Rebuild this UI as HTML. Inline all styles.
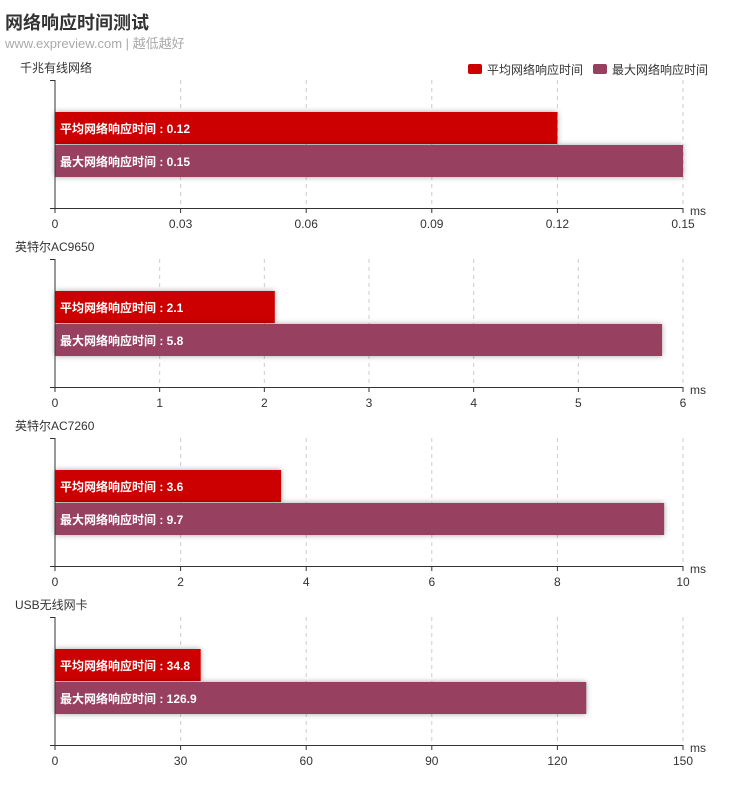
<!DOCTYPE html>
<html><head><meta charset="utf-8"><style>
body{margin:0;background:#fff;width:743px;height:803px;overflow:hidden}
svg text{font-family:"Liberation Sans","Noto Sans CJK SC",sans-serif}
</style></head><body>
<svg width="743" height="803" xmlns="http://www.w3.org/2000/svg">
<defs><filter id="sh" x="-5%" y="-30%" width="110%" height="160%"><feDropShadow dx="0" dy="0" stdDeviation="3" flood-color="#000" flood-opacity="0.35"/></filter></defs>
<text x="5" y="29" font-size="18" font-weight="bold" fill="#333">网络响应时间测试</text>
<text x="5" y="48" font-size="13" fill="#aaa">www.expreview.com | 越低越好</text>
<rect x="468" y="64" width="14" height="10" rx="2" fill="#cc0000"/>
<text x="487" y="74" font-size="12" fill="#333">平均网络响应时间</text>
<rect x="593" y="64" width="14" height="10" rx="2" fill="#973f5f"/>
<text x="612" y="74" font-size="12" fill="#333">最大网络响应时间</text>
<g id="panels"></g>
</svg>
<script>
const P=[["千兆有线网络",0.15,["0","0.03","0.06","0.09","0.12","0.15"],0.12,0.15,"0.12","0.15"],
["英特尔AC9650",6,["0","1","2","3","4","5","6"],2.1,5.8,"2.1","5.8"],
["英特尔AC7260",10,["0","2","4","6","8","10"],3.6,9.7,"3.6","9.7"],
["USB无线网卡",150,["0","30","60","90","120","150"],34.8,126.9,"34.8","126.9"]];
let s="";
P.forEach((p,i)=>{const o=i*179,x0=55,W=628,n=p[2].length-1;
s+=`<text x="${i==0?20:15}" y="${72+o}" font-size="12" fill="#333">${p[0]}</text>`;
for(let k=1;k<=n;k++){const x=x0+W*k/n;s+=`<line x1="${x}" y1="${80+o}" x2="${x}" y2="${208+o}" stroke="#ccc" stroke-dasharray="4,4"/>`;}
const w1=W*p[3]/p[1],w2=W*p[4]/p[1];
s+=`<rect x="${x0}" y="${112+o}" width="${w1}" height="32" fill="#cc0000" filter="url(#sh)"/>`;
s+=`<rect x="${x0}" y="${145+o}" width="${w2}" height="32" fill="#973f5f" filter="url(#sh)"/>`;
s+=`<text x="60" y="${133+o}" font-size="12" font-weight="bold" fill="#fff">平均网络响应时间 : ${p[5]}</text>`;
s+=`<text x="60" y="${166+o}" font-size="12" font-weight="bold" fill="#fff">最大网络响应时间 : ${p[6]}</text>`;
s+=`<line x1="${x0}" y1="${80+o}" x2="${x0}" y2="${208+o}" stroke="#333"/><line x1="50" y1="${80.5+o}" x2="${x0}" y2="${80.5+o}" stroke="#333"/>`;
s+=`<line x1="50" y1="${208.5+o}" x2="${x0+W}" y2="${208.5+o}" stroke="#333"/>`;
for(let k=0;k<=n;k++){const x=x0+W*k/n;s+=`<line x1="${x}" y1="${208+o}" x2="${x}" y2="${213+o}" stroke="#333"/><text x="${x}" y="${228+o}" font-size="12" fill="#333" text-anchor="middle">${p[2][k]}</text>`;}
s+=`<text x="690" y="${215+o}" font-size="12" fill="#333">ms</text>`;
});
document.getElementById("panels").innerHTML=s;
</script>
</body></html>
